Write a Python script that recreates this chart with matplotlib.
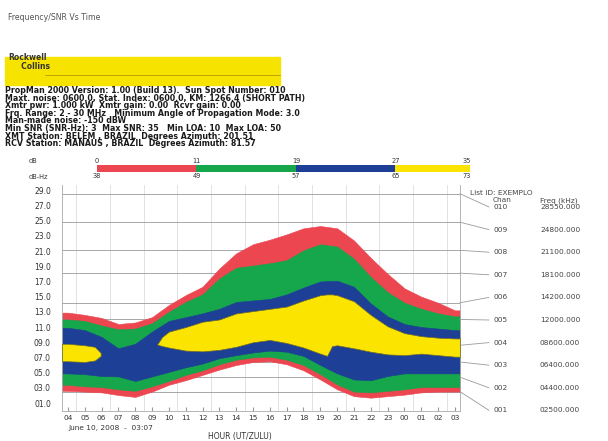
import matplotlib
matplotlib.use("Agg")
import matplotlib.pyplot as plt
import numpy as np
from matplotlib.patches import ConnectionPatch, Rectangle

W, H = 608, 441
plt.rcParams["font.family"] = ["DejaVu Sans"]

# hour positions along the x axis and their labels (UT)
HOURS = np.arange(24)
HOUR_LABELS = ["04", "05", "06", "07", "08", "09", "10", "11", "12", "13", "14", "15",
               "16", "17", "18", "19", "20", "21", "22", "23", "00", "01", "02", "03"]

# band edges in MHz, one value per hour
RED_TOP = [12.9, 12.6, 12.2, 11.4, 11.6, 12.3, 13.9, 15.2, 16.3, 18.7, 20.7, 21.9,
           22.5, 23.2, 24.0, 24.3, 24.0, 22.4, 20.1, 18.0, 16.1, 15.0, 14.2, 13.2]
GREEN_TOP = [12.0, 11.8, 11.2, 10.7, 10.8, 11.5, 13.0, 14.3, 15.3, 17.4, 18.8, 19.1,
             19.4, 19.8, 21.1, 21.9, 21.6, 20.0, 17.6, 15.6, 14.2, 13.4, 12.8, 12.4]
BLUE_TOP = [10.9, 10.6, 9.7, 8.2, 8.8, 10.4, 11.8, 12.3, 12.8, 13.4, 14.3, 14.5,
            14.7, 15.3, 16.2, 17.0, 17.1, 16.3, 14.1, 12.4, 11.4, 11.0, 10.8, 10.6]
BLUE_BOTTOM = [4.9, 4.8, 4.55, 4.5, 3.9, 4.5, 5.1, 5.7, 6.2, 6.9, 7.3, 7.65,
               7.9, 7.75, 7.2, 6.0, 4.9, 4.1, 4.0, 4.55, 4.9, 4.9, 4.9, 4.9]
GREEN_BOTTOM = [3.4, 3.2, 3.1, 2.8, 2.6, 3.2, 3.9, 4.7, 5.3, 6.1, 6.7, 7.0,
                7.1, 6.7, 6.0, 4.8, 3.45, 2.5, 2.4, 2.6, 2.8, 3.1, 3.1, 3.1]
RED_BOTTOM = [2.6, 2.5, 2.4, 2.05, 1.8, 2.5, 3.4, 4.0, 4.7, 5.4, 6.0, 6.4,
              6.5, 6.1, 5.3, 4.1, 2.8, 1.9, 1.7, 1.9, 2.1, 2.4, 2.5, 2.5]

# yellow (>= 27 dB) areas: early island and main daytime region
YELLOW_A_HOURS = [0, 1, 1.6, 1.95]
YELLOW_A_TOP = [8.8, 8.6, 8.4, 7.6]
YELLOW_A_BOTTOM = [6.5, 6.4, 6.6, 7.2]
YELLOW_B_HOURS = [5.3, 5.6, 6, 7, 8, 9, 10, 11, 12, 13, 14, 15, 15.4, 15.7,
                  16, 17, 18, 19, 20, 21, 22, 23]
YELLOW_B_TOP = [8.7, 9.7, 10.4, 11.0, 11.7, 12.0, 12.8, 13.1, 13.4, 13.7, 14.5, 15.2,
                15.3, 15.3, 15.2, 14.4, 12.6, 11.1, 10.2, 9.8, 9.6, 9.5]
YELLOW_B_BOTTOM = [8.7, 8.5, 8.3, 7.9, 7.8, 8.0, 8.4, 9.0, 9.3, 8.9, 8.3, 7.5,
                   7.2, 8.5, 8.6, 8.2, 7.75, 7.4, 7.3, 7.5, 7.3, 7.1]

SNR_DB = ["0", "11", "19", "27", "35"]
SNR_DBHZ = ["38", "49", "57", "65", "73"]
BAND_COLORS = ["#ec4650", "#16a64c", "#1d3f96", "#fbe400"]

CHANNELS = ["010", "009", "008", "007", "006", "005", "004", "003", "002", "001"]
CHANNEL_KHZ = [28550.0, 24800.0, 21100.0, 18100.0, 14200.0, 12000.0, 8600.0, 6400.0, 4400.0, 2500.0]

HEADER = [
    "PropMan 2000 Version: 1.00 (Build 13).  Sun Spot Number: 010",
    "Maxt. noise: 0600.0, Stat. Index: 0600.0, KM: 1266.4 (SHORT PATH)",
    "Xmtr pwr: 1.000 kW  Xmtr gain: 0.00  Rcvr gain: 0.00",
    "Frq. Range: 2 - 30 MHz   Minimum Angle of Propagation Mode: 3.0",
    "Man-made noise: -150 dBW",
    "Min SNR (SNR-Hz): 3  Max SNR: 35   Min LOA: 10  Max LOA: 50",
    "XMT Station: BELEM , BRAZIL  Degrees Azimuth: 201.51",
    "RCV Station: MANAUS , BRAZIL  Degrees Azimuth: 81.57",
]


def fx(px):
    return px / W


def fy(py):
    return 1 - py / H


def edges(x, vals, x0, x1):
    x = list(x)
    vals = list(vals)
    if x[0] == HOURS[0]:
        x, vals = [x0] + x, [vals[0]] + vals
    if x[-1] == HOURS[-1]:
        x, vals = x + [x1], vals + [vals[-1]]
    return np.array(x), np.array(vals)


def main():
    fig = plt.figure(figsize=(W / 100, H / 100), dpi=100)
    x0, x1 = -0.35, 23.3

    # header
    fig.text(fx(8), fy(17), "Frequency/SNR Vs Time", fontsize=5.6, color="#555555", va="center")
    fig.patches.append(Rectangle((fx(5), fy(85)), fx(275), 28 / H, transform=fig.transFigure,
                                 color="#f6e300", zorder=0))
    fig.add_artist(plt.Line2D([fx(45), fx(280)], [fy(75), fy(75)], color="#b89a00", lw=0.6))
    fig.text(fx(8), fy(62), "Rockwell\n     Collins", fontsize=5.5, fontweight="bold",
             color="#333", va="center", linespacing=0.9)
    fig.text(fx(5), fy(86), "\n".join(HEADER), fontsize=5.7, fontweight="bold",
             color="#1a1a1a", va="top", linespacing=0.8)

    # SNR colour key
    kax = fig.add_axes([fx(97), fy(172), fx(470 - 97), 7 / H])
    kax.bar(np.arange(4), [1, 1, 1, 1], width=1, align="edge", color=BAND_COLORS)
    kax.set_xlim(0, 3.75)
    kax.set_ylim(0, 1)
    kax.set_axis_off()
    lab_x = [0, 1, 2, 3, 3.72]
    for xi, a, b in zip(lab_x, SNR_DB, SNR_DBHZ):
        kax.text(xi, 1.2, a, fontsize=4.8, ha="center", va="bottom", color="#333")
        kax.text(xi, -0.2, b, fontsize=4.8, ha="center", va="top", color="#333")
    fig.text(fx(29), fy(161), "dB", fontsize=4.8, color="#333", va="center")
    fig.text(fx(29), fy(177), "dB-Hz", fontsize=4.8, color="#333", va="center")

    # main plot
    ax = fig.add_axes([fx(62), fy(410.6), fx(460 - 62), (410.6 - 185) / H])
    for h in np.arange(0.5, 23, 2):
        ax.axvline(h, color="#dddddd", lw=0.6, zorder=0)

    bands = [(RED_BOTTOM, RED_TOP), (GREEN_BOTTOM, GREEN_TOP), (BLUE_BOTTOM, BLUE_TOP)]
    for (lo, hi), col in zip(bands, BAND_COLORS):
        xs, ylo = edges(HOURS, lo, x0, x1)
        _, yhi = edges(HOURS, hi, x0, x1)
        ax.fill_between(xs, ylo, yhi, color=col, lw=0.4, edgecolor=col, zorder=2)
    for hrs, lo, hi in [(YELLOW_A_HOURS, YELLOW_A_BOTTOM, YELLOW_A_TOP),
                        (YELLOW_B_HOURS, YELLOW_B_BOTTOM, YELLOW_B_TOP)]:
        xs, ylo = edges(hrs, lo, x0, x1)
        _, yhi = edges(hrs, hi, x0, x1)
        ax.fill_between(xs, ylo, yhi, color=BAND_COLORS[3], lw=0.5, edgecolor="#6b6a30", zorder=3)

    ax.set_xlim(x0, x1)
    ax.set_ylim(0, 29.7)
    ax.set_xticks(HOURS)
    ax.set_xticklabels(HOUR_LABELS, fontsize=5.3, color="#333")
    yt = np.arange(1, 30, 2)
    ax.set_yticks(yt)
    ax.set_yticklabels([f"{v:04.1f}" for v in yt], fontsize=5.5, color="#333")
    ax.tick_params(axis="x", direction="in", length=3, pad=3, color="#999999")
    ax.tick_params(axis="y", length=0, pad=8)
    for s in ax.spines.values():
        s.set_color("#aaaaaa")
        s.set_linewidth(0.6)
    ax.spines["top"].set_visible(False)

    fig.text(fx(68), fy(428), "June 10, 2008  -  03:07", fontsize=5.3, color="#333", va="center")
    fig.text(fx(240), fy(437), "HOUR (UT/ZULU)", fontsize=5.5, color="#333", va="center", ha="center")

    # channel list and leader lines
    fig.text(fx(470), fy(193), "List ID: EXEMPLO", fontsize=5.3, color="#444", va="center")
    fig.text(fx(493), fy(200.5), "Chan", fontsize=5.3, color="#444", va="center")
    fig.text(fx(540), fy(200.5), "Freq (kHz)", fontsize=5.3, color="#444", va="center")
    for i, (ch, khz) in enumerate(zip(CHANNELS, CHANNEL_KHZ)):
        ry = 207 + i * 22.6
        f = khz / 1000
        ax.axhline(f, color="#9a9a9a", lw=0.6, zorder=1)
        con = ConnectionPatch(xyA=(x1, f), coordsA=ax.transData,
                              xyB=(fx(489), fy(ry)), coordsB=fig.transFigure,
                              color="#9a9a9a", lw=0.6)
        fig.add_artist(con)
        fig.text(fx(493), fy(ry), ch, fontsize=5.3, color="#444", va="center")
        fig.text(fx(540), fy(ry), f"{khz:09.3f}", fontsize=5.3, color="#444", va="center")

    fig.savefig("out.png", dpi=100)


if __name__ == "__main__":
    main()
